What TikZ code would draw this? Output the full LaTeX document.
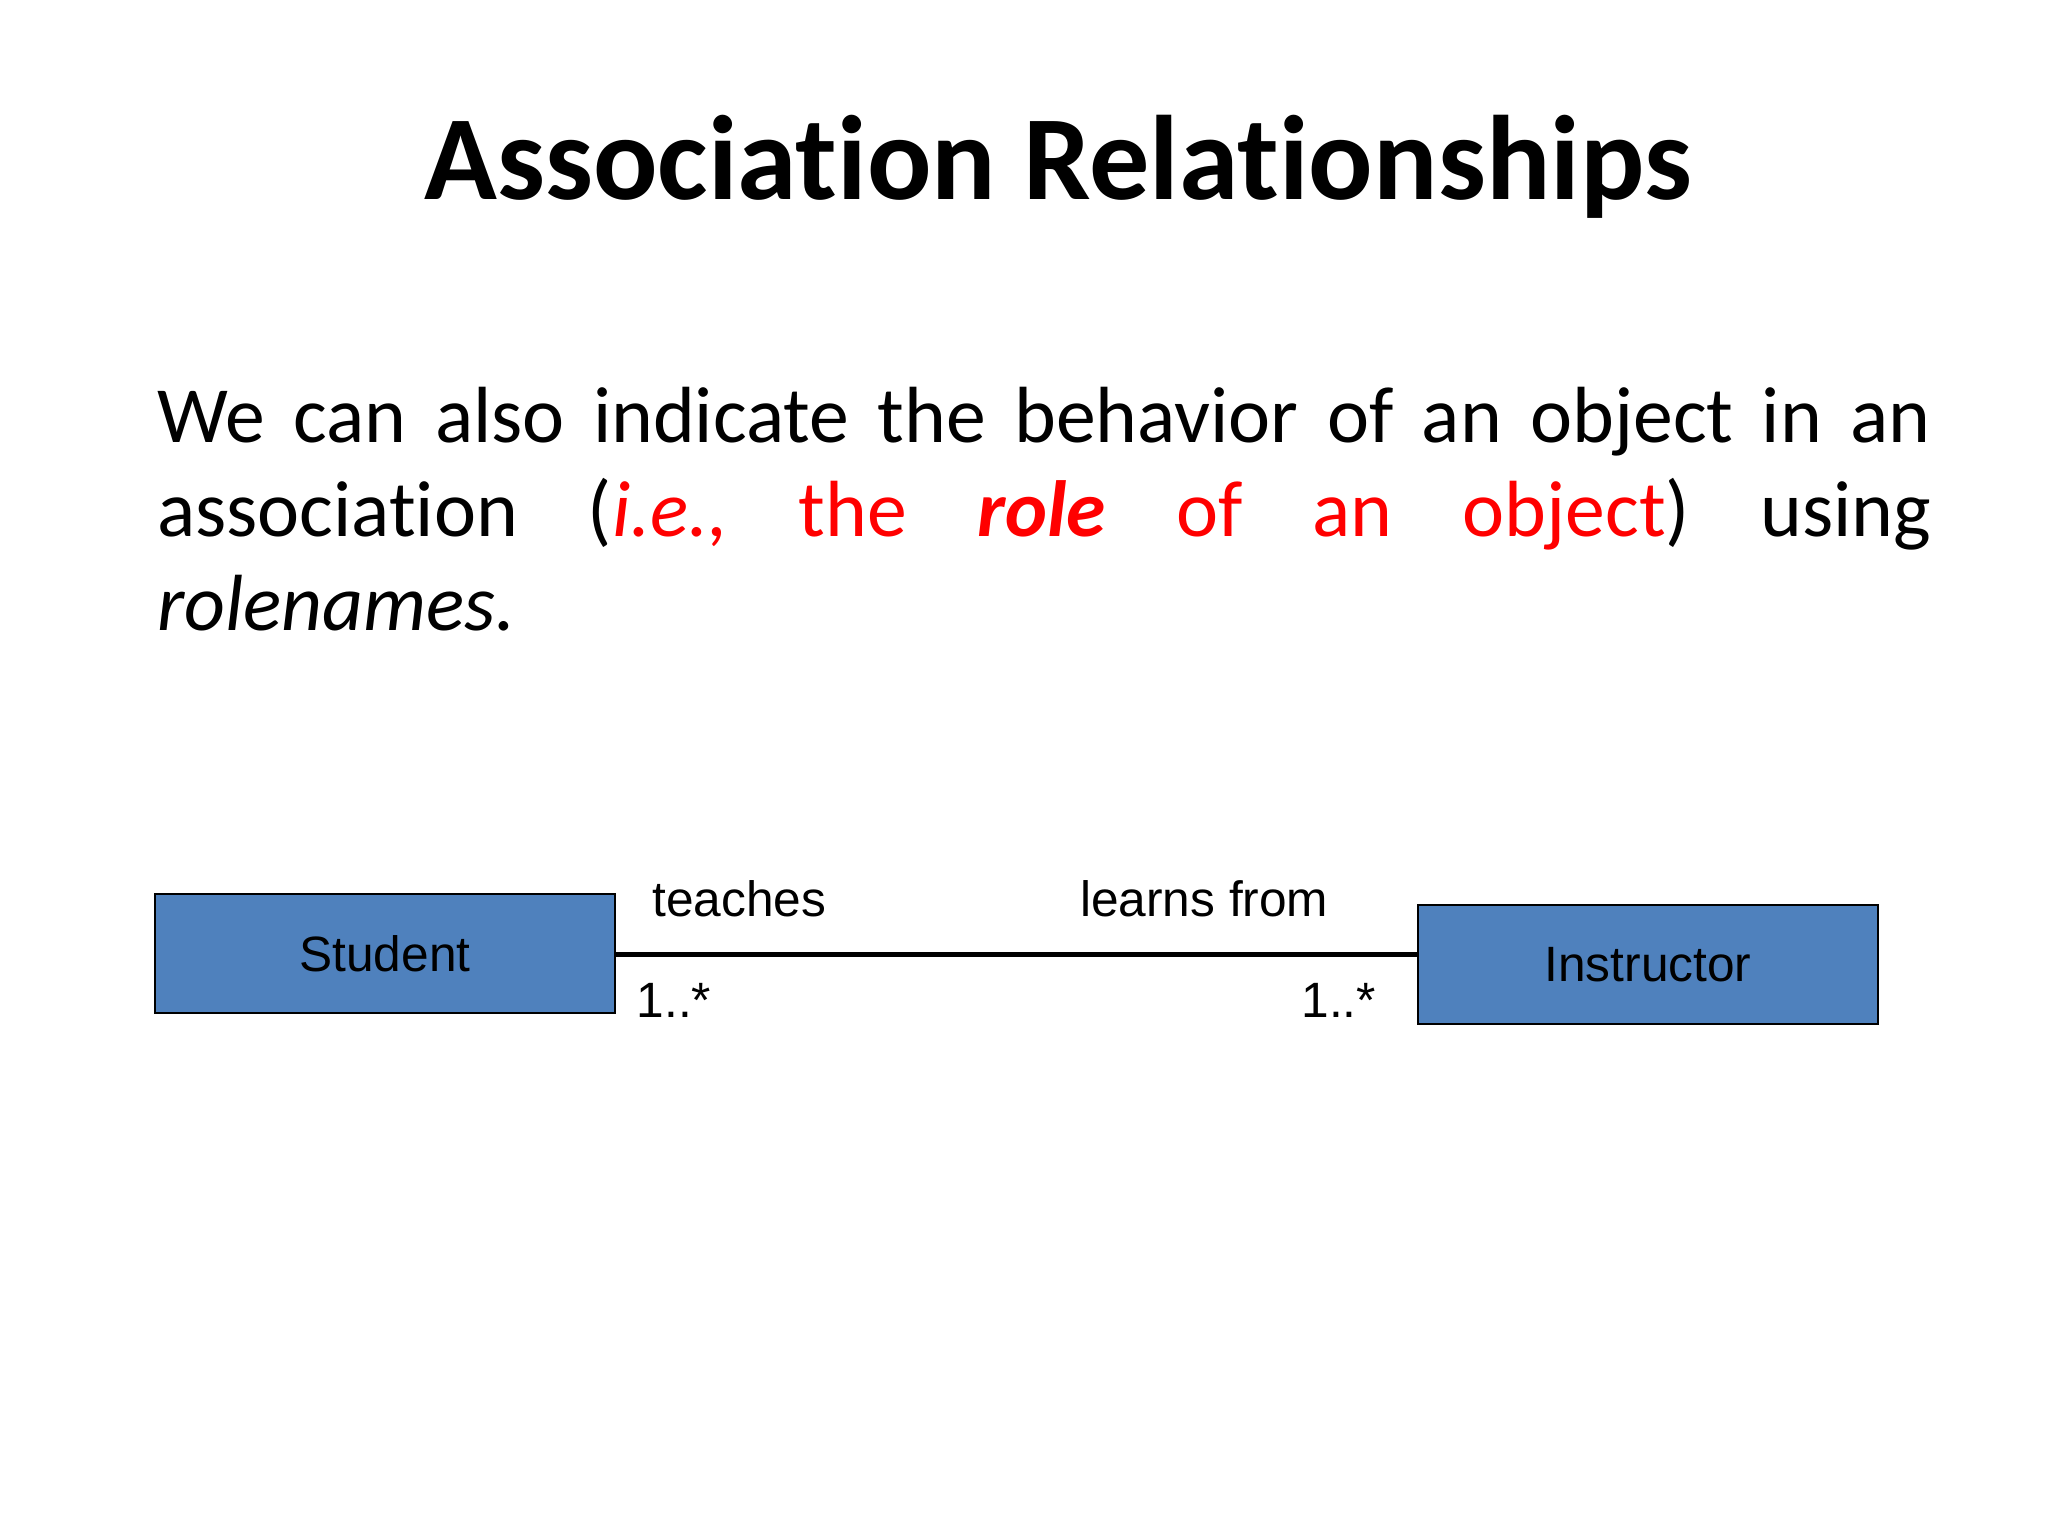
\documentclass[tikz,border=0pt]{standalone}
\usepackage{fontspec}
\setmainfont[Ligatures=NoCommon]{Carlito}
\newfontfamily\arialf{Liberation Sans}
\definecolor{boxblue}{HTML}{4F81BD}
\definecolor{rolered}{HTML}{FF0000}
\begin{document}
\begin{tikzpicture}[x=0.5pt,y=-0.5pt,
  cls/.style={draw=black,line width=0.7pt,fill=boxblue,minimum width=176pt,minimum height=45.5pt,inner sep=0pt,font=\arialf\fontsize{19}{22}\selectfont},
  lbl/.style={inner sep=0pt,font=\arialf\fontsize{19}{22}\selectfont}]
\useasboundingbox (0,0) rectangle (1568,1176);
\node[font=\fontsize{46}{55}\selectfont\bfseries] (title) at (810,128) {Association Relationships};
\node[anchor=north west,inner sep=0pt,text width=679pt,align=justify,font=\fontsize{30.5}{36}\selectfont] (body) at (120,296)
 {\hyphenpenalty=10000 We can also indicate the behavior of an object in an\linebreak association (\textcolor{rolered}{\itshape i.e.,\ \upshape the \textbf{\itshape role} of an object}) using\linebreak \textit{rolenames.}};
\node[cls,anchor=north west] (s) at (118,684) {Student};
\node[cls,anchor=north west] (i) at (1085,692) {Instructor};
\draw[line width=2pt] (s.east|-0,731) coordinate (a) -- (i.west|-0,731) coordinate (b);
\node[lbl] (t) at (566,688) {teaches};
\node[lbl] (l) at (922,688) {learns from};
\node[lbl] (m1) at (516,766) {1..*};
\node[lbl] (m2) at (1025,766) {1..*};
\end{tikzpicture}
\end{document}
